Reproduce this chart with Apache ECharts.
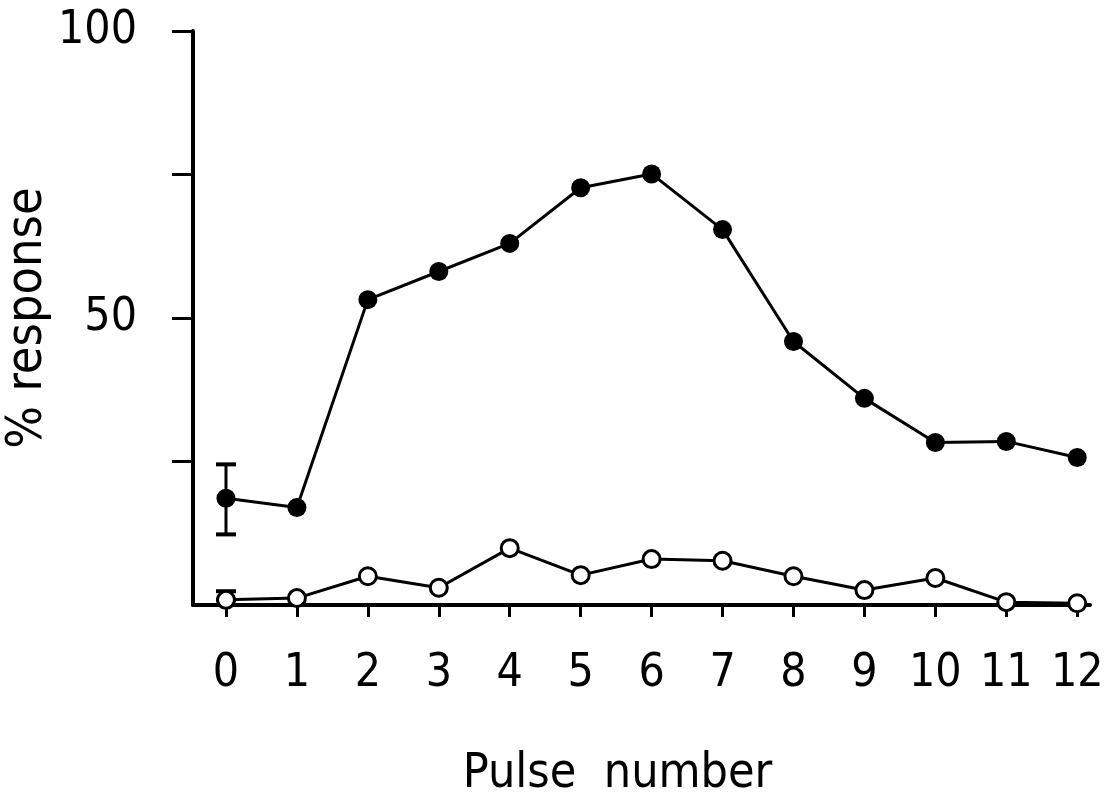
<!DOCTYPE html>
<html><head><meta charset="utf-8">
<script src="https://cdn.jsdelivr.net/npm/echarts@6/dist/echarts.min.js"></script>
<style>html,body{margin:0;padding:0;background:#fff}#c{width:1104px;height:792px}</style>
</head><body><div id="c"></div>
<script>
var pulses = [0,1,2,3,4,5,6,7,8,9,10,11,12];
var filledValues = [18.6,17.0,53.2,58.1,63.0,72.7,75.1,65.4,45.9,36.0,28.3,28.5,25.7];
var openValues = [0.9,1.2,5.0,3.0,9.9,5.2,8.0,7.7,5.0,2.6,4.7,0.5,0.3];
// error bars: [x, low, high]
var errorBars = [[0,12.3,24.5],[0,0.9,2.4]];
var yTickValues = [25,50,75,100];
var yLabelValues = [50,100];

var FONT = '"DejaVu Sans Condensed","Liberation Sans Narrow","DejaVu Sans",sans-serif';
var chart = echarts.init(document.getElementById('c'), null, {renderer:'canvas'});
function pairs(v){return pulses.map(function(p,i){return [p,v[i]];});}
chart.setOption({
  animation:false,
  backgroundColor:'#fff',
  grid:{left:193,right:14,top:31,bottom:187,containLabel:false,outerBoundsMode:'none'},
  xAxis:{type:'value',min:-0.465,max:12.18,
    name:'Pulse  number',nameLocation:'middle',nameGap:146,nameMoveOverlap:false,
    nameTextStyle:{fontFamily:FONT,fontSize:48,fontWeight:300,color:'#000',padding:[0,48,0,0]},
    axisLine:{show:true,onZero:false,lineStyle:{color:'#000',width:4}},
    axisTick:{show:true,customValues:pulses,length:12,inside:false,lineStyle:{color:'#000',width:3}},
    axisLabel:{customValues:pulses,margin:46,fontFamily:FONT,fontSize:46,fontWeight:300,color:'#000'},
    splitLine:{show:false}},
  yAxis:{type:'value',min:0,max:100,
    name:'% response',nameLocation:'middle',nameGap:130,nameMoveOverlap:false,
    nameTextStyle:{fontFamily:FONT,fontSize:50,fontWeight:300,color:'#000',padding:[0,0,10,0]},
    axisLine:{show:true,onZero:false,lineStyle:{color:'#000',width:4}},
    axisTick:{show:true,customValues:yTickValues,length:21,lineStyle:{color:'#000',width:3}},
    axisLabel:{customValues:yLabelValues,margin:56,fontFamily:FONT,fontSize:46,fontWeight:300,color:'#000'},
    splitLine:{show:false}},
  series:[
    {type:'custom',renderItem:function(params,api){
        var x=api.value(0),lo=api.coord([x,api.value(1)]),hi=api.coord([x,api.value(2)]);
        var w=10;
        return {type:'group',children:[
          {type:'line',shape:{x1:lo[0],y1:lo[1],x2:hi[0],y2:hi[1]},style:{stroke:'#000',lineWidth:3}},
          {type:'line',shape:{x1:lo[0]-w,y1:lo[1],x2:lo[0]+w,y2:lo[1]},style:{stroke:'#000',lineWidth:4}},
          {type:'line',shape:{x1:hi[0]-w,y1:hi[1],x2:hi[0]+w,y2:hi[1]},style:{stroke:'#000',lineWidth:4}}
        ]};
      },data:errorBars,z:1},
    {type:'line',data:pairs(openValues),symbol:'circle',symbolSize:17,
      lineStyle:{color:'#000',width:3},itemStyle:{color:'#fff',borderColor:'#000',borderWidth:3},z:3},
    {type:'line',data:pairs(filledValues),symbol:'circle',symbolSize:19,
      lineStyle:{color:'#000',width:3},itemStyle:{color:'#000',borderColor:'#000',borderWidth:0},z:4}
  ]
});
</script></body></html>
